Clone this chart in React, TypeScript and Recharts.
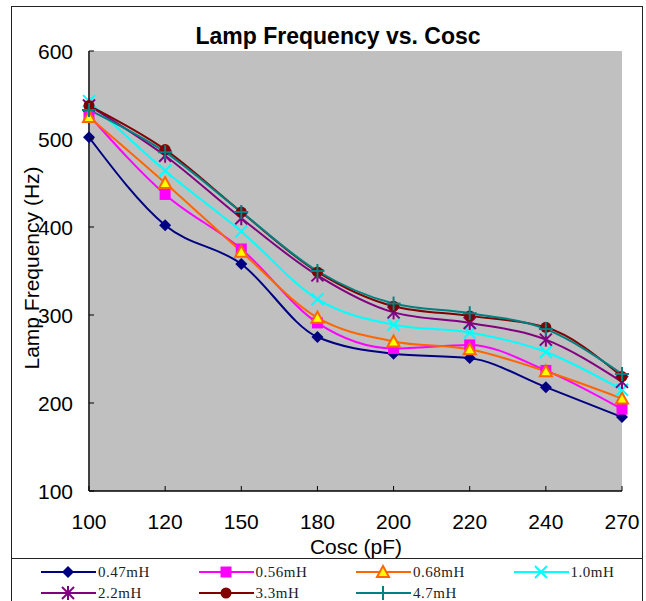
import React from "react";
import {
  LineChart,
  Line,
  XAxis,
  YAxis,
  CartesianGrid,
} from "recharts";

// Cosc (pF) categories and lamp frequency (Hz) per inductance
const cosc = ["100", "120", "150", "180", "200", "220", "240", "270"];
const l047 = [502, 402, 358, 275, 256, 251, 218, 184];
const l056 = [527, 437, 375, 291, 262, 266, 237, 193];
const l068 = [525, 450, 372, 297, 270, 261, 236, 205];
const l10 = [543, 464, 395, 318, 289, 280, 258, 215];
const l22 = [538, 481, 410, 345, 303, 291, 272, 224];
const l33 = [538, 488, 417, 349, 310, 299, 286, 230];
const l47 = [533, 485, 417, 350, 313, 302, 284, 233];
const yTicks = [100, 200, 300, 400, 500, 600];

type Kind = "diamond" | "square" | "triangle" | "x" | "star" | "circle" | "plus";

const series: { key: string; name: string; values: number[]; color: string; kind: Kind }[] = [
  { key: "l047", name: "0.47mH", values: l047, color: "#000080", kind: "diamond" },
  { key: "l056", name: "0.56mH", values: l056, color: "#FF00FF", kind: "square" },
  { key: "l068", name: "0.68mH", values: l068, color: "#FF6600", kind: "triangle" },
  { key: "l10", name: "1.0mH", values: l10, color: "#00FFFF", kind: "x" },
  { key: "l22", name: "2.2mH", values: l22, color: "#800080", kind: "star" },
  { key: "l33", name: "3.3mH", values: l33, color: "#800000", kind: "circle" },
  { key: "l47", name: "4.7mH", values: l47, color: "#008080", kind: "plus" },
];

const data = cosc.map((c, i) => {
  const row: Record<string, string | number> = { cosc: c };
  series.forEach((s) => {
    row[s.key] = s.values[i];
  });
  return row;
});

function marker(kind: Kind, cx: number, cy: number, color: string, key?: string) {
  const r = 6;
  switch (kind) {
    case "diamond":
      return (
        <polygon key={key} points={`${cx},${cy - r} ${cx + r},${cy} ${cx},${cy + r} ${cx - r},${cy}`} fill={color} />
      );
    case "square":
      return <rect key={key} x={cx - 5.5} y={cy - 5.5} width={11} height={11} fill={color} />;
    case "triangle":
      return (
        <polygon
          key={key}
          points={`${cx},${cy - 6} ${cx + 6},${cy + 5} ${cx - 6},${cy + 5}`}
          fill="#FFFF00"
          stroke={color}
          strokeWidth={2}
        />
      );
    case "x":
      return (
        <g key={key} stroke={color} strokeWidth={2}>
          <line x1={cx - 6} y1={cy - 6} x2={cx + 6} y2={cy + 6} />
          <line x1={cx - 6} y1={cy + 6} x2={cx + 6} y2={cy - 6} />
        </g>
      );
    case "star":
      return (
        <g key={key} stroke={color} strokeWidth={2}>
          <line x1={cx - 6} y1={cy - 6} x2={cx + 6} y2={cy + 6} />
          <line x1={cx - 6} y1={cy + 6} x2={cx + 6} y2={cy - 6} />
          <line x1={cx} y1={cy - 7} x2={cx} y2={cy + 7} />
        </g>
      );
    case "circle":
      return <circle key={key} cx={cx} cy={cy} r={5.5} fill={color} />;
    case "plus":
      return (
        <g key={key} stroke={color} strokeWidth={2}>
          <line x1={cx - 7} y1={cy} x2={cx + 7} y2={cy} />
          <line x1={cx} y1={cy - 7} x2={cx} y2={cy + 7} />
        </g>
      );
  }
}

const tickFont = { fontFamily: "Liberation Sans, Arial, sans-serif", fontSize: 21, fill: "#000" };

function YTick(props: any) {
  const { x, y, payload } = props;
  return (
    <g>
      <line x1={x} y1={y} x2={x + 5} y2={y} stroke="#000" strokeWidth={1} />
      <text x={x - 16} y={y} textAnchor="end" dominantBaseline="central" {...tickFont}>
        {payload.value}
      </text>
    </g>
  );
}

function XTick(props: any) {
  const { x, y, payload } = props;
  return (
    <g>
      <line x1={x} y1={y} x2={x} y2={y - 5} stroke="#000" strokeWidth={1} />
      <text x={x} y={y + 30} textAnchor="middle" dominantBaseline="central" {...tickFont}>
        {payload.value}
      </text>
    </g>
  );
}

const legendRows = [series.slice(0, 4), series.slice(4)];

export default function App() {
  return (
    <div
      style={{
        position: "absolute",
        left: 0,
        top: 0,
        width: 646,
        height: 601,
        background: "#fff",
        overflow: "hidden",
      }}
    >
      <LineChart width={646} height={601} data={data} margin={{ top: 51, right: 24, bottom: 0, left: 0 }}>
        <CartesianGrid fill="#C0C0C0" horizontal={false} vertical={false} stroke="none" />
        <XAxis
          dataKey="cosc"
          height={110}
          tickSize={0}
          tickMargin={0}
          tick={<XTick />}
          axisLine={{ stroke: "#000", strokeWidth: 1.5 }}
          tickLine={false}
          interval={0}
        />
        <XAxis
          xAxisId="top"
          dataKey="cosc"
          orientation="top"
          height={0}
          tick={false}
          tickLine={false}
          axisLine={{ stroke: "#808080", strokeWidth: 1.5 }}
        />
        <YAxis
          type="number"
          domain={[100, 600]}
          ticks={yTicks}
          width={89}
          tickSize={0}
          tickMargin={0}
          tick={<YTick />}
          tickLine={false}
          axisLine={{ stroke: "#404040", strokeWidth: 2 }}
          allowDataOverflow
        />
        <YAxis
          yAxisId="right"
          orientation="right"
          type="number"
          domain={[100, 600]}
          width={0}
          tick={false}
          tickLine={false}
          axisLine={{ stroke: "#808080", strokeWidth: 2.5 }}
        />
        {series.map((s) => (
          <Line
            key={s.key}
            dataKey={s.key}
            name={s.name}
            type="monotone"
            stroke={s.color}
            strokeWidth={2}
            isAnimationActive={false}
            activeDot={false}
            dot={(p: any) => marker(s.kind, p.cx, p.cy, s.color, `${s.key}-${p.index}`)}
          />
        ))}
        <text
          x={338}
          y={36}
          textAnchor="middle"
          dominantBaseline="central"
          fontFamily="Liberation Sans, Arial, sans-serif"
          fontWeight="bold"
          fontSize={23}
          fill="#000"
        >
          Lamp Frequency vs. Cosc
        </text>
        <text x={356} y={546} textAnchor="middle" dominantBaseline="central" {...tickFont}>
          Cosc (pF)
        </text>
        <text
          x={31}
          y={268}
          transform="rotate(-90 31 268)"
          textAnchor="middle"
          dominantBaseline="central"
          {...tickFont}
        >
          Lamp Frequency (Hz)
        </text>
      </LineChart>
      {/* outer frame and legend box */}
      <div
        style={{
          position: "absolute",
          left: 11,
          top: 6,
          width: 630,
          height: 620,
          border: "1.5px solid #222",
          pointerEvents: "none",
        }}
      />
      <div
        style={{
          position: "absolute",
          left: 12,
          top: 558,
          width: 630,
          height: 0,
          borderTop: "1.5px solid #222",
        }}
      />
      {legendRows.map((row, ri) =>
        row.map((s, ci) => (
          <div
            key={s.key}
            style={{
              position: "absolute",
              left: 41 + ci * 157.5,
              top: 572 + ri * 21 - 8,
              height: 16,
              display: "flex",
              alignItems: "center",
            }}
          >
            <svg width={55} height={16}>
              <line x1={0} y1={8} x2={55} y2={8} stroke={s.color} strokeWidth={2} />
              {marker(s.kind, 27, 8, s.color)}
            </svg>
            <span
              style={{
                fontFamily: "Liberation Serif, 'Times New Roman', serif",
                fontSize: 15,
                letterSpacing: 0.5,
                marginLeft: 2,
                color: "#222",
              }}
            >
              {s.name}
            </span>
          </div>
        ))
      )}
    </div>
  );
}
